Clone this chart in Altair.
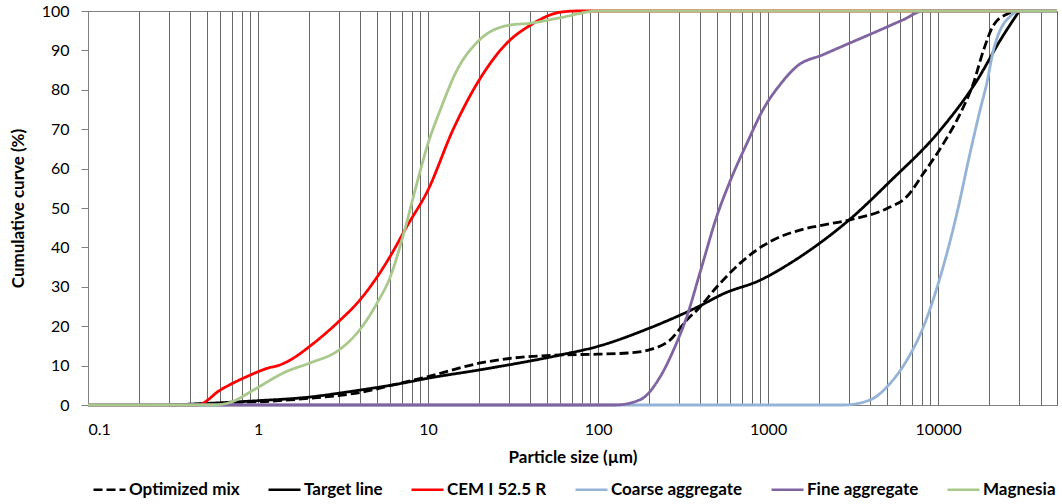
import altair as alt
import pandas as pd

# Cumulative particle size distributions: particle size in µm, passing in %
opt_size = [0.3, 0.5, 1, 2, 4, 6.8, 10, 20, 30, 60, 100, 150, 200, 265, 333, 390,
            500, 685, 1030, 1540, 2000, 3030, 5000, 6550, 8200, 10750, 13500,
            16100, 18500, 21150, 25350, 30000]
opt_pct = [0, 0.3, 0.8, 1.7, 3.2, 5.5, 7.2, 10.6, 11.8, 12.7, 12.9, 13.2, 14, 16.5,
           21.6, 24.5, 30, 36, 41.5, 44.4, 45.5, 47, 49.9, 52.9, 58.8, 66.4, 74,
           81.6, 90.1, 96.4, 99.2, 100]

target_size = [0.3, 0.5, 1, 2, 3, 4, 7, 10, 20, 60, 100, 200, 390, 550, 900, 1350,
               2000, 3000, 5200, 10300, 17000, 23200, 30000]
target_pct = [0, 0.4, 1.1, 2.0, 3.0, 3.8, 5.5, 6.8, 8.9, 12.7, 14.9, 19.5, 25, 28.3,
              31.7, 36, 41, 47, 56.7, 69.8, 82.5, 92.6, 100]

cem_size = [0.1, 0.44, 0.6, 0.9, 1.13, 1.35, 1.6, 2, 3, 4, 4.8, 6, 7.5, 10, 14, 20,
            29, 40, 60, 75, 50000]
cem_pct = [0, 0, 3.8, 7.6, 9.3, 10.2, 11.8, 14.8, 21.3, 26.8, 31.3, 37.8, 45.3,
           54.6, 69.8, 82.5, 91.8, 96.4, 99.7, 100, 100]

coarse_size = [0.1, 2770, 3980, 5220, 6550, 8200, 10300, 12900, 15400, 17650,
               19300, 21150, 23200, 26500, 30000, 50000]
coarse_pct = [0, 0, 1.3, 5.5, 11.4, 19.9, 32.6, 48.7, 63.9, 74.9, 81.6, 90.1, 95.2,
              98.6, 100, 100]

fine_size = [0.1, 125, 176, 232, 278, 333, 400, 500, 600, 750, 940, 1180, 1480,
             2100, 3000, 4350, 6250, 8200, 50000]
fine_pct = [0, 0, 1.3, 7.2, 14, 22.5, 34, 48, 57, 66.4, 75.2, 81.4, 86, 88.9,
            91.8, 94.8, 97.8, 100, 100]

magnesia_size = [0.1, 0.55, 0.7, 0.94, 1.47, 2, 3, 4, 5, 6, 7.2, 8.6, 10, 11.8,
                 14.8, 20, 30, 40, 60, 100, 50000]
magnesia_pct = [0, 0, 0.8, 3.8, 8.5, 10.6, 14, 19.3, 25.8, 32.6, 43.6, 56.3, 66.4,
                74.9, 85, 92.6, 96.4, 96.9, 98.3, 100, 100]

series_names = ["Optimized mix", "Target line", "CEM I 52.5 R",
                "Coarse aggregate", "Fine aggregate", "Magnesia"]
series_colors = ["#000000", "#000000", "#FF0000", "#95B3D7", "#8064A2", "#A9C98C"]
series_dashes = [[9, 4], [1, 0], [1, 0], [1, 0], [1, 0], [1, 0]]

major_labels = [0.1, 1, 10, 100, 1000, 10000]
y_ticks = [0, 10, 20, 30, 40, 50, 60, 70, 80, 90, 100]

# vertical grid at every 1..9 multiple of each decade, up to 50000
grid_values = [round(k * 10.0 ** e, 6) for e in range(-1, 5) for k in range(1, 10)]
grid_values = [v for v in grid_values if v <= 50000]

all_sizes = [opt_size, target_size, cem_size, coarse_size, fine_size, magnesia_size]
all_pcts = [opt_pct, target_pct, cem_pct, coarse_pct, fine_pct, magnesia_pct]

rows = []
for name, xs, ys in zip(series_names, all_sizes, all_pcts):
    rows += [{"series": name, "size": x, "pct": y} for x, y in zip(xs, ys)]
df = pd.DataFrame(rows)

FONT = "Lato"
AXIS_GRAY = "#808080"
GRID_GRAY = "#686868"

label_expr = ("indexof(" + str(major_labels) + ", datum.value) >= 0 ? "
              "format(datum.value, '~g') : ''")

x_enc = alt.X(
    "size:Q",
    scale=alt.Scale(type="log", domain=[0.1, 50000], nice=False),
    axis=alt.Axis(
        title="Particle size (µm)",
        values=grid_values,
        labelExpr=label_expr,
        labelOverlap=False,
        labelPadding=16,
        ticks=False,
        grid=True,
        gridColor=GRID_GRAY,
        gridWidth=1,
        gridOpacity=1,
        domainColor=AXIS_GRAY,
        titlePadding=12,
    ),
)

y_enc = alt.Y(
    "pct:Q",
    scale=alt.Scale(domain=[0, 100], nice=False),
    axis=alt.Axis(
        title="Cumulative curve (%)",
        values=y_ticks,
        format="d",
        grid=False,
        ticks=True,
        tickSize=7,
        tickColor=AXIS_GRAY,
        domainColor=AXIS_GRAY,
        labelPadding=12,
        titlePadding=14,
    ),
)

legend = alt.Legend(
    title=None,
    orient="none",
    legendX=4,
    legendY=461,
    direction="horizontal",
    symbolType="stroke",
    symbolSize=1024,
    symbolStrokeWidth=2.6,
    labelFont=FONT,
    labelFontSize=17,
    labelFontWeight="bold",
    labelColor="#000000",
    labelOffset=2,
    columnPadding=23,
)

color_enc = alt.Color(
    "series:N",
    scale=alt.Scale(domain=series_names, range=series_colors),
    legend=legend,
)
dash_enc = alt.StrokeDash(
    "series:N",
    scale=alt.Scale(domain=series_names, range=series_dashes),
    legend=legend,
)

base = alt.Chart(df).encode(x=x_enc, y=y_enc, color=color_enc, strokeDash=dash_enc)

# one layer per series so that later series are drawn on top
layers = [
    base.transform_filter(alt.datum.series == name).mark_line(
        strokeWidth=2.8, interpolate="monotone"
    )
    for name in series_names
]

chart = (
    alt.layer(*layers)
    .properties(
        width=969,
        height=394,
        autosize=alt.AutoSizeParams(type="none"),
        padding={"left": 88, "top": 11, "right": 5, "bottom": 99},
    )
    .configure_view(stroke=AXIS_GRAY, strokeWidth=1)
    .configure_axis(
        labelFont=FONT,
        labelFontSize=16,
        labelColor="#000000",
        titleFont=FONT,
        titleFontSize=17,
        titleFontWeight="bold",
        titleColor="#000000",
    )
)

chart.save("out.html", embed_options={"renderer": "svg", "actions": False})
